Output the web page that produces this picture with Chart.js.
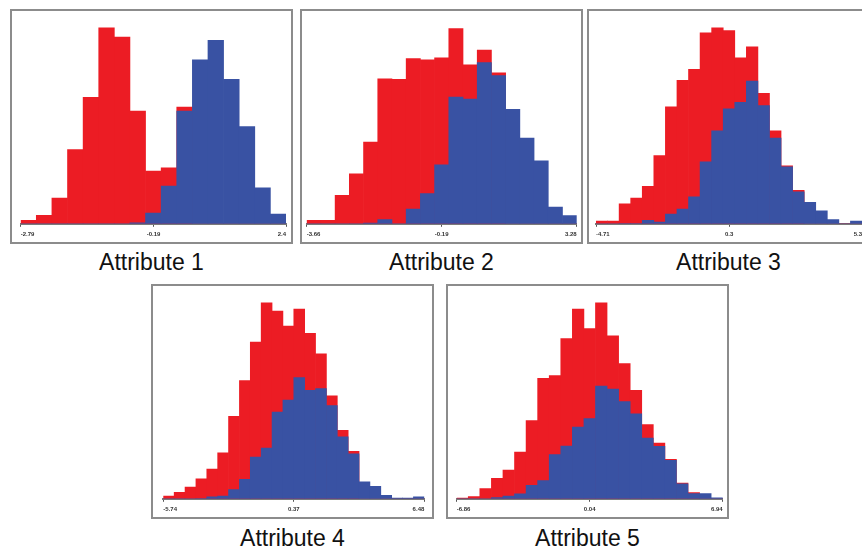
<!DOCTYPE html>
<html>
<head>
<meta charset="utf-8">
<script src="https://cdn.jsdelivr.net/npm/chart.js@4.4.1/dist/chart.umd.min.js"></script>
<style>
  body { margin: 0; width: 862px; height: 550px; overflow: hidden; position: relative; background: #fff; font-family: "Liberation Sans", Arial, sans-serif; }
  .box { position: absolute; border: 2px solid #8c8c8c; box-sizing: border-box; background: #fff; }
  .box canvas { position: absolute; left: 0; top: 0; }
  .caption { position: absolute; font-size: 23px; line-height: 23px; text-align: center; color: #111; white-space: nowrap; }
</style>
</head>
<body>
<script>
// bin heights (same arbitrary unit in every panel)
const red1 = [11, 26, 79, 228, 388, 601, 573, 346, 162, 172, 358, 0, 0, 0, 0, 0, 0];
const blue1 = [0, 0, 0, 0, 0, 0, 0, 3, 33, 116, 346, 503, 563, 443, 298, 110, 30];
const ticks1 = [-2.79, -0.19, 2.4];

const red2 = [11, 11, 87, 153, 251, 445, 443, 507, 503, 509, 599, 488, 533, 463, 0, 0, 0, 0, 0];
const blue2 = [0, 0, 0, 0, 2, 13, 0, 45, 93, 181, 389, 383, 495, 455, 351, 263, 193, 51, 25];
const ticks2 = [-3.66, -0.19, 3.28];

const red3 = [8, 8, 61, 79, 115, 209, 359, 440, 474, 586, 601, 593, 509, 543, 400, 285, 178, 103, 0, 0, 0, 0, 0];
const blue3 = [0, 0, 1, 1, 11, 5, 30, 45, 83, 190, 285, 353, 373, 438, 363, 263, 175, 98, 66, 40, 13, 0, 8];
const ticks3 = [-4.71, 0.3, 5.3];

const red4 = [8, 20, 36, 61, 91, 141, 253, 363, 481, 601, 576, 530, 582, 508, 445, 316, 210, 146, 0, 0, 0, 0, 0, 0];
const blue4 = [0, 0, 0, 1, 6, 8, 28, 60, 128, 156, 266, 303, 372, 333, 338, 286, 190, 138, 52, 38, 11, 2, 2, 6];
const ticks4 = [-5.74, 0.37, 6.48];

const red5 = [2, 7, 31, 63, 88, 143, 240, 370, 378, 492, 582, 522, 601, 500, 415, 333, 228, 171, 121, 48, 19, 0, 0];
const blue5 = [0, 0, 0, 4, 8, 15, 41, 56, 136, 162, 220, 246, 346, 337, 298, 261, 186, 161, 118, 46, 16, 16, 3];
const ticks5 = [-6.86, 0.04, 6.94];

const titles = ['Attribute 1', 'Attribute 2', 'Attribute 3', 'Attribute 4', 'Attribute 5'];

const RED = '#ec1c24';
const BLUE = '#3952a3';
const Y_MAX = 653;

// box position and axis insets for each panel
const panels = [
  { x: 10, y: 9, w: 283, h: 235, padL: 8.7, padR: 5, capY: 251 },
  { x: 300, y: 9, w: 283, h: 235, padL: 4.7, padR: 4.3, capY: 251 },
  { x: 587, y: 9, w: 283, h: 235, padL: 7, padR: 6, capY: 251 },
  { x: 151, y: 284, w: 283, h: 235, padL: 10.3, padR: 7.7, capY: 526.5 },
  { x: 446, y: 284, w: 283, h: 235, padL: 8.7, padR: 4.3, capY: 526.5 }
];

function drawPanel(p, red, blue, ticks, title) {
  const box = document.createElement('div');
  box.className = 'box';
  Object.assign(box.style, { left: p.x + 'px', top: p.y + 'px', width: p.w + 'px', height: p.h + 'px' });
  const canvas = document.createElement('canvas');
  canvas.width = p.w - 4;
  canvas.height = p.h - 4;
  box.appendChild(canvas);
  document.body.appendChild(box);

  const cap = document.createElement('div');
  cap.className = 'caption';
  Object.assign(cap.style, { left: p.x + 'px', top: p.capY + 'px', width: p.w + 'px' });
  cap.textContent = title;
  document.body.appendChild(cap);

  new Chart(canvas, {
    type: 'bar',
    data: {
      labels: red.map((_, i) => i + 1),
      datasets: [
        { label: 'blue', data: blue, backgroundColor: BLUE, order: 0 },
        { label: 'red', data: red, backgroundColor: RED, order: 1 }
      ]
    },
    options: {
      responsive: false,
      animation: false,
      layout: { padding: { left: p.padL, right: p.padR, top: 0, bottom: 0 } },
      datasets: { bar: { barPercentage: 1, categoryPercentage: 1, grouped: false, borderWidth: 0 } },
      plugins: { legend: { display: false }, tooltip: { enabled: false } },
      scales: {
        x: { display: false },
        y: { display: false, min: 0, max: Y_MAX },
        xv: {
          type: 'linear',
          position: 'bottom',
          min: ticks[0],
          max: ticks[2],
          offset: false,
          z: 1,
          afterBuildTicks: s => { s.ticks = ticks.map(v => ({ value: v })); },
          grid: { offset: false, drawOnChartArea: false, tickLength: 3, color: '#555' },
          border: { color: '#7a7a7a', width: 2 },
          ticks: {
            align: 'inner',
            padding: 4,
            autoSkip: false,
            maxRotation: 0,
            color: '#333',
            font: { size: 6, weight: 'bold', family: 'Liberation Sans' },
            callback: v => String(v)
          }
        }
      }
    }
  });
}

drawPanel(panels[0], red1, blue1, ticks1, titles[0]);
drawPanel(panels[1], red2, blue2, ticks2, titles[1]);
drawPanel(panels[2], red3, blue3, ticks3, titles[2]);
drawPanel(panels[3], red4, blue4, ticks4, titles[3]);
drawPanel(panels[4], red5, blue5, ticks5, titles[4]);
</script>
</body>
</html>
